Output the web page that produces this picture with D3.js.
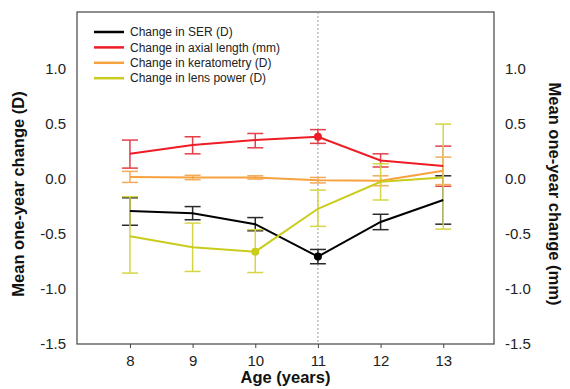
<!DOCTYPE html>
<html>
<head>
<meta charset="utf-8">
<script src="https://cdn.jsdelivr.net/npm/d3@7"></script>
<style>
  body { margin: 0; background: #fff; }
  svg { font-family: "Liberation Sans", Arial, sans-serif; }
</style>
</head>
<body>
<div id="chart"></div>
<script>
var width = 570,
    height = 389;

// data (value, lower, upper)
var ages = [8, 9, 10, 11, 12, 13];
var tickValues = [-1.5, -1.0, -0.5, 0.0, 0.5, 1.0];

var serMean = [-0.29, -0.31, -0.41, -0.705, -0.39, -0.19];
var serLow  = [-0.42, -0.37, -0.47, -0.77, -0.46, -0.41];
var serHigh = [-0.17, -0.25, -0.35, -0.64, -0.32, 0.03];

var axialMean = [0.23, 0.31, 0.355, 0.385, 0.17, 0.12];
var axialLow  = [0.10, 0.23, 0.285, 0.325, 0.11, -0.065];
var axialHigh = [0.355, 0.385, 0.415, 0.45, 0.23, 0.30];

var keratMean = [0.02, 0.015, 0.015, -0.01, -0.015, 0.075];
var keratLow  = [-0.03, -0.005, 0.0, -0.035, -0.06, -0.05];
var keratHigh = [0.07, 0.035, 0.03, 0.015, 0.03, 0.20];

var lensMean = [-0.52, -0.62, -0.66, -0.27, -0.025, 0.015];
var lensLow  = [-0.855, -0.84, -0.85, -0.43, -0.19, -0.455];
var lensHigh = [-0.16, -0.40, -0.46, -0.10, 0.14, 0.50];

var seriesNames = ["Change in SER (D)", "Change in axial length (mm)", "Change in keratometry (D)", "Change in lens power (D)"];
var seriesColors = ["#000000", "#ee1c25", "#f7a13f", "#c9cc1b"];
var errColors = ["#2a2a2a", "#e4404a", "#f4aa5c", "#d4d645"];
var dotAge = [11, 11, null, 10]; // where the filled marker sits

var series = [
  {mean: serMean, low: serLow, high: serHigh},
  {mean: axialMean, low: axialLow, high: axialHigh},
  {mean: keratMean, low: keratLow, high: keratHigh},
  {mean: lensMean, low: lensLow, high: lensHigh}
];

var margin = {left: 77, right: 76, top: 12, bottom: 45};

var svg = d3.select("#chart").append("svg")
    .attr("width", width)
    .attr("height", height);

var x = d3.scaleLinear()
    .domain([7.155, 13.81])
    .range([margin.left, width - margin.right]);

var y = d3.scaleLinear()
    .domain([-1.5, 1.52])
    .range([height - margin.bottom, margin.top]);

var axisColor = "#444";

// frame
svg.append("rect")
    .attr("x", x.range()[0])
    .attr("y", y.range()[1])
    .attr("width", x.range()[1] - x.range()[0])
    .attr("height", y.range()[0] - y.range()[1])
    .attr("fill", "none")
    .attr("stroke", axisColor)
    .attr("stroke-width", 1.2);

// dotted reference line at 11
svg.append("line")
    .attr("x1", x(11)).attr("x2", x(11))
    .attr("y1", y.range()[1]).attr("y2", y.range()[0])
    .attr("stroke", "#999")
    .attr("stroke-width", 1)
    .attr("stroke-dasharray", "2,2");

// axes
var xAxis = svg.append("g")
    .attr("transform", "translate(0," + y.range()[0] + ")")
    .call(d3.axisBottom(x).tickValues(ages).tickSize(4).tickFormat(d3.format("d")));

var yLeft = svg.append("g")
    .attr("transform", "translate(" + x.range()[0] + ",0)")
    .call(d3.axisLeft(y).tickValues(tickValues).tickSize(0).tickPadding(11));

var yRight = svg.append("g")
    .attr("transform", "translate(" + x.range()[1] + ",0)")
    .call(d3.axisRight(y).tickValues(tickValues).tickSize(0).tickPadding(11));

[xAxis, yLeft, yRight].forEach(function(g) {
    g.select(".domain").remove();
    g.selectAll("line").attr("stroke", axisColor);
    g.selectAll("text")
        .attr("fill", "#222")
        .style("font-size", "15px")
        .style("font-family", "Liberation Sans, Arial, sans-serif");
});
xAxis.selectAll("text").attr("dy", "1.0em");
[yLeft, yRight].forEach(function(g) {
    g.selectAll("text").text(function(d) { return d3.format(".1f")(d).replace("−", "-"); });
});

// error bars, then lines, then markers
var capHalf = 8;
series.forEach(function(s, i) {
    var g = svg.append("g");
    var rows = ages.map(function(a, j) {
        return {age: a, mean: s.mean[j], low: s.low[j], high: s.high[j]};
    });

    var eb = g.selectAll("g.err").data(rows).enter().append("g")
        .attr("stroke", errColors[i])
        .attr("stroke-width", 1.5);
    eb.append("line")
        .attr("x1", function(d) { return x(d.age); })
        .attr("x2", function(d) { return x(d.age); })
        .attr("y1", function(d) { return y(d.low); })
        .attr("y2", function(d) { return y(d.high); });
    eb.append("line")
        .attr("x1", function(d) { return x(d.age) - capHalf; })
        .attr("x2", function(d) { return x(d.age) + capHalf; })
        .attr("y1", function(d) { return y(d.low); })
        .attr("y2", function(d) { return y(d.low); });
    eb.append("line")
        .attr("x1", function(d) { return x(d.age) - capHalf; })
        .attr("x2", function(d) { return x(d.age) + capHalf; })
        .attr("y1", function(d) { return y(d.high); })
        .attr("y2", function(d) { return y(d.high); });

    s.rows = rows;
});

series.forEach(function(s, i) {
    var line = d3.line()
        .x(function(d) { return x(d.age); })
        .y(function(d) { return y(d.mean); });
    svg.append("path")
        .datum(s.rows)
        .attr("fill", "none")
        .attr("stroke", seriesColors[i])
        .attr("stroke-width", 2)
        .attr("d", line);

    if (dotAge[i] !== null) {
        var d = s.rows.filter(function(r) { return r.age === dotAge[i]; })[0];
        svg.append("circle")
            .attr("cx", x(d.age))
            .attr("cy", y(d.mean))
            .attr("r", 4)
            .attr("fill", seriesColors[i]);
    }
});

// legend
var legend = svg.append("g")
    .attr("transform", "translate(94,32)");
var item = legend.selectAll("g")
    .data(seriesNames)
    .enter().append("g")
    .attr("transform", function(d, i) { return "translate(0," + (i * 15.4) + ")"; });
item.append("line")
    .attr("x1", 0).attr("x2", 30)
    .attr("stroke", function(d, i) { return seriesColors[i]; })
    .attr("stroke-width", 2.5);
item.append("text")
    .attr("x", 36)
    .attr("dy", "0.35em")
    .attr("fill", "#222")
    .style("font-size", "12px")
    .text(function(d) { return d; });

// axis titles
var midY = (y.range()[0] + y.range()[1]) / 2 + 16;

svg.append("text")
    .attr("x", (x.range()[0] + x.range()[1]) / 2)
    .attr("y", 383)
    .attr("text-anchor", "middle")
    .style("font-size", "16.5px")
    .style("font-weight", "bold")
    .attr("fill", "#111")
    .text("Age (years)");

svg.append("text")
    .attr("transform", "translate(24," + midY + ") rotate(-90)")
    .attr("text-anchor", "middle")
    .style("font-size", "16.5px")
    .style("font-weight", "bold")
    .attr("fill", "#111")
    .text("Mean one-year change (D)");

svg.append("text")
    .attr("transform", "translate(549," + midY + ") rotate(90)")
    .attr("text-anchor", "middle")
    .style("font-size", "16.5px")
    .style("font-weight", "bold")
    .attr("fill", "#111")
    .text("Mean one-year change (mm)");
</script>
</body>
</html>
